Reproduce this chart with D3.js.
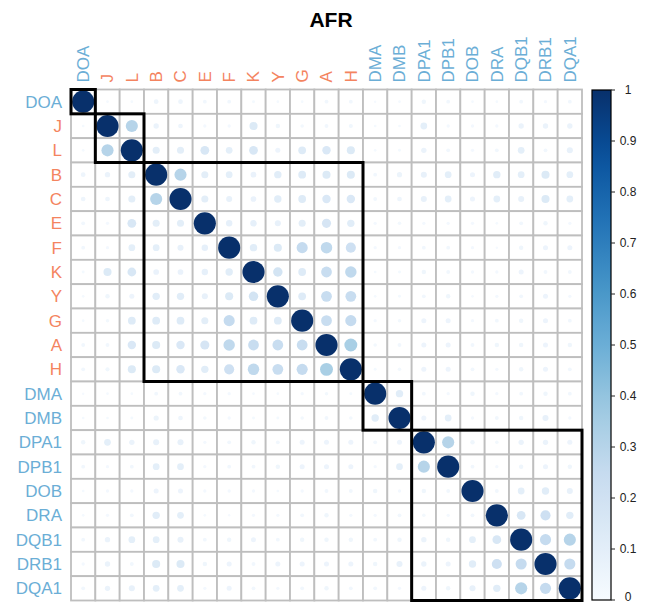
<!DOCTYPE html>
<html>
<head>
<meta charset="utf-8">
<script src="https://cdn.jsdelivr.net/npm/d3@7/dist/d3.min.js"></script>
<style>
  html, body { margin: 0; padding: 0; background: #ffffff; }
  svg { display: block; }
  text { font-family: "Liberation Sans", Arial, Helvetica, sans-serif; }
</style>
</head>
<body>
<svg id="chart" width="645" height="604"></svg>
<script>
// ---------- DATA ----------
const title = "AFR";
const labels = ["DOA","J","L","B","C","E","F","K","Y","G","A","H",
                "DMA","DMB","DPA1","DPB1","DOB","DRA","DQB1","DRB1","DQA1"];
// label groups: class I genes (orange); the rest are blue
const classOneLabels = ["J","L","B","C","E","F","K","Y","G","A","H"];
// lower triangle of the symmetric matrix (row i, columns 0..i-1); diagonal = 1
const lowerTriangle = [
  [],
  [0.015],
  [0.015, 0.30],
  [0.046, 0.059, 0.102],
  [0.046, 0.046, 0.102, 0.30],
  [0.030, 0.022, 0.157, 0.102, 0.102],
  [0.030, 0.022, 0.093, 0.093, 0.075, 0.084],
  [0.018, 0.133, 0.157, 0.067, 0.067, 0.084, 0.112],
  [0.015, 0.040, 0.052, 0.112, 0.112, 0.075, 0.133, 0.182],
  [0.015, 0.026, 0.123, 0.123, 0.123, 0.102, 0.252, 0.123, 0.123],
  [0.030, 0.030, 0.145, 0.133, 0.145, 0.169, 0.268, 0.237, 0.237, 0.237],
  [0.030, 0.035, 0.133, 0.133, 0.145, 0.112, 0.208, 0.268, 0.237, 0.252, 0.34],
  [0.012, 0.015, 0.015, 0.030, 0.030, 0.022, 0.022, 0.015, 0.015, 0.022, 0.026, 0.018],
  [0.015, 0.015, 0.018, 0.056, 0.046, 0.026, 0.022, 0.018, 0.018, 0.026, 0.030, 0.026, 0.112],
  [0.040, 0.093, 0.059, 0.075, 0.075, 0.022, 0.030, 0.040, 0.030, 0.052, 0.052, 0.052, 0.030, 0.052],
  [0.030, 0.022, 0.030, 0.093, 0.093, 0.022, 0.030, 0.030, 0.040, 0.052, 0.052, 0.052, 0.022, 0.093, 0.30],
  [0.015, 0.022, 0.022, 0.052, 0.052, 0.022, 0.022, 0.022, 0.015, 0.022, 0.030, 0.030, 0.040, 0.022, 0.040, 0.030],
  [0.015, 0.022, 0.030, 0.112, 0.093, 0.015, 0.012, 0.022, 0.022, 0.030, 0.040, 0.022, 0.022, 0.030, 0.026, 0.022, 0.030],
  [0.030, 0.059, 0.093, 0.093, 0.075, 0.030, 0.040, 0.052, 0.030, 0.040, 0.040, 0.040, 0.030, 0.040, 0.059, 0.040, 0.093, 0.157],
  [0.022, 0.059, 0.030, 0.133, 0.133, 0.040, 0.052, 0.030, 0.052, 0.052, 0.052, 0.052, 0.040, 0.075, 0.059, 0.052, 0.112, 0.208, 0.252],
  [0.030, 0.059, 0.075, 0.093, 0.093, 0.022, 0.052, 0.030, 0.022, 0.030, 0.040, 0.030, 0.030, 0.022, 0.052, 0.040, 0.075, 0.112, 0.30, 0.252]
];
// cluster rectangles: [first label, last label]
const clusters = [["DOA","DOA"],["J","L"],["B","H"],["DMA","DMB"],["DPA1","DQA1"]];
const legendTicks = [0, 0.1, 0.2, 0.3, 0.4, 0.5, 0.6, 0.7, 0.8, 0.9, 1];
const legendTickLabels = ["0","0.1","0.2","0.3","0.4","0.5","0.6","0.7","0.8","0.9","1"];
const bluesStops = ["#F7FBFF","#DEEBF7","#C6DBEF","#9ECAE1","#6BAED6","#4292C6","#2171B5","#08519C","#08306B"];

// ---------- BUILD ----------
const n = labels.length;
const cells = [];
for (let i = 0; i < n; i++) {
  for (let j = 0; j < n; j++) {
    let v;
    if (i === j) v = 1;
    else if (j < i) v = lowerTriangle[i][j];
    else v = lowerTriangle[j][i];
    cells.push({row: labels[i], col: labels[j], v: v});
  }
}

const svg = d3.select("#chart");
const gridLeft = 71, gridRight = 582, gridTop = 89.5, gridBottom = 600.5;

const x = d3.scaleBand().domain(labels).range([gridLeft, gridRight]).padding(0);
const y = d3.scaleBand().domain(labels).range([gridTop, gridBottom]).padding(0);
const bw = x.bandwidth();

const color = d3.scaleLinear()
  .domain(d3.range(bluesStops.length).map(k => k / (bluesStops.length - 1)))
  .range(bluesStops)
  .interpolate(d3.interpolateRgb);
const rScale = d3.scaleSqrt().domain([0, 1]).range([0, bw * 0.455]);

const blue = "#6BAED6", orange = "#F4845F";
const labelColor = l => classOneLabels.includes(l) ? orange : blue;

// Title
svg.append("text")
  .attr("x", 331).attr("y", 27)
  .attr("text-anchor", "middle")
  .attr("font-size", 21).attr("font-weight", "bold")
  .attr("fill", "#000")
  .text(title);

// cell backgrounds / grid
svg.append("g").selectAll("rect")
  .data(cells).join("rect")
  .attr("x", d => x(d.col)).attr("y", d => y(d.row))
  .attr("width", bw).attr("height", y.bandwidth())
  .attr("fill", "#fff")
  .attr("stroke", "#BEBEBE").attr("stroke-width", 1.8);

// circles
svg.append("g").selectAll("circle")
  .data(cells).join("circle")
  .attr("cx", d => x(d.col) + bw / 2)
  .attr("cy", d => y(d.row) + y.bandwidth() / 2)
  .attr("r", d => rScale(d.v))
  .attr("fill", d => color(d.v));

// cluster rectangles
svg.append("g").selectAll("rect")
  .data(clusters).join("rect")
  .attr("x", d => x(d[0])).attr("y", d => y(d[0]))
  .attr("width", d => x(d[1]) + bw - x(d[0]))
  .attr("height", d => y(d[1]) + y.bandwidth() - y(d[0]))
  .attr("fill", "none").attr("stroke", "#000").attr("stroke-width", 3);

// row labels
svg.append("g").selectAll("text")
  .data(labels).join("text")
  .attr("x", gridLeft - 9)
  .attr("y", d => y(d) + y.bandwidth() / 2)
  .attr("dy", "0.35em")
  .attr("text-anchor", "end")
  .attr("font-size", 17)
  .attr("fill", labelColor)
  .text(d => d);

// column labels (rotated)
svg.append("g").selectAll("text")
  .data(labels).join("text")
  .attr("transform", d => `translate(${x(d) + bw / 2},${gridTop - 7}) rotate(-90)`)
  .attr("dy", "0.35em")
  .attr("text-anchor", "start")
  .attr("font-size", 17)
  .attr("fill", labelColor)
  .text(d => d);

// colour legend
const legX = 592, legW = 19, legTop = 90, legBottom = 600;
const defs = svg.append("defs");
const grad = defs.append("linearGradient").attr("id", "blues")
  .attr("x1", 0).attr("y1", 1).attr("x2", 0).attr("y2", 0);
d3.range(0, 1.0001, 0.05).forEach(t => {
  grad.append("stop").attr("offset", t).attr("stop-color", color(t));
});
svg.append("rect")
  .attr("x", legX).attr("y", legTop)
  .attr("width", legW).attr("height", legBottom - legTop)
  .attr("fill", "url(#blues)")
  .attr("stroke", "#000").attr("stroke-width", 1.2);

const legScale = d3.scaleLinear().domain([0, 1]).range([legBottom, legTop]);
const lg = svg.append("g");
lg.selectAll("line").data(legendTicks).join("line")
  .attr("x1", legX + legW).attr("x2", legX + legW + 4)
  .attr("y1", d => legScale(d)).attr("y2", d => legScale(d))
  .attr("stroke", "#222").attr("stroke-width", 1);
lg.selectAll("text").data(legendTicks).join("text")
  .attr("x", 628)
  .attr("y", d => Math.min(legScale(d), 597))
  .attr("dy", "0.35em")
  .attr("text-anchor", "middle")
  .attr("font-size", 12)
  .attr("fill", "#222")
  .text((d, i) => legendTickLabels[i]);
</script>
</body>
</html>
